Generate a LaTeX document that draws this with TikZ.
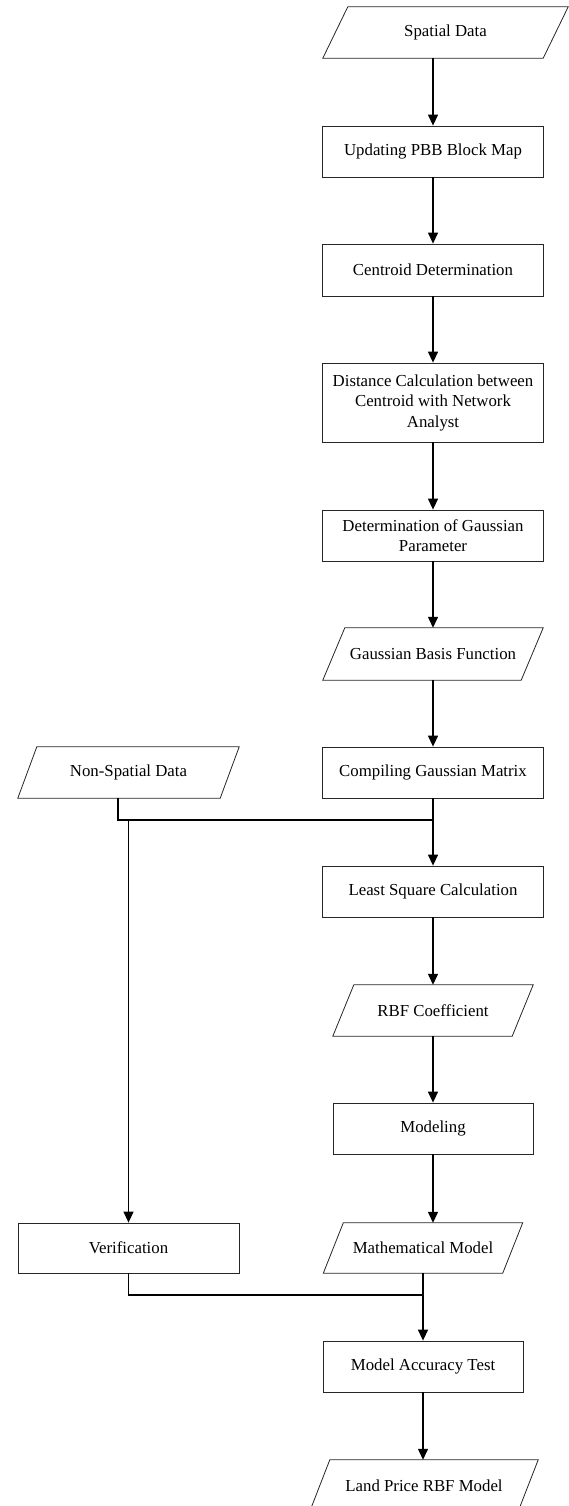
\documentclass[tikz,border=0pt]{standalone}
\usepackage{fontspec}
\setmainfont{Liberation Serif}
\usetikzlibrary{arrows.meta}
\begin{document}
\begin{tikzpicture}[x=1pt,y=-1pt,
  txt/.style={font=\fontsize{16.8}{20.5}\selectfont, align=center, inner sep=0pt},
  proc/.style={txt, draw=black!85, line width=0.8pt, minimum width=221pt, minimum height=51pt},
  io/.style={txt, minimum width=221pt, minimum height=51pt},
  pbox/.style={draw=black!85, line width=0.8pt},
  conn/.style={line width=1.3pt, -{Triangle[length=11pt,width=10pt]}},
  link/.style={line width=1.3pt}]
\useasboundingbox (0,0) rectangle (568,1506);

% nodes
\node[io, minimum width=245pt] (sp) at (445.5,32.5) {Spatial Data};
\node[proc] (upd) at (433,151.5) {Updating PBB Block Map};
\node[proc, minimum height=52pt] (cen) at (433,270) {Centroid Determination};
\node[proc, minimum height=79pt] (dist) at (433,402.5) {Distance Calculation between\\Centroid with Network\\Analyst};
\node[proc] (det) at (433,535.5) {Determination of Gaussian\\Parameter};
\node[io, minimum width=220pt, minimum height=52pt] (gbf) at (433,654) {Gaussian Basis Function};
\node[proc] (comp) at (433,772.5) {Compiling Gaussian Matrix};
\node[io] (ns) at (128.5,772.5) {Non-Spatial Data};
\node[proc] (lsq) at (433,891.5) {Least Square Calculation};
\node[io, minimum width=200pt] (rbf) at (433,1010.5) {RBF Coefficient};
\node[proc, minimum width=200pt] (mod) at (433,1128.5) {Modeling};
\node[proc, minimum height=50pt] (ver) at (128.5,1248) {Verification};
\node[io, minimum width=199pt, minimum height=50pt] (mm) at (423,1248) {Mathematical Model};
\node[proc, minimum width=200pt] (acc) at (423,1366.5) {Model Accuracy Test};
\node[io, minimum width=228pt] (land) at (424,1485.5) {Land Price RBF Model};

% parallelogram outlines
\draw[pbox] ([xshift=25pt]sp.north west) -- (sp.north east) -- ([xshift=-25pt]sp.south east) -- (sp.south west) -- cycle;
\draw[pbox] ([xshift=22pt]gbf.north west) -- (gbf.north east) -- ([xshift=-22pt]gbf.south east) -- (gbf.south west) -- cycle;
\draw[pbox] ([xshift=19pt]ns.north west) -- (ns.north east) -- ([xshift=-19pt]ns.south east) -- (ns.south west) -- cycle;
\draw[pbox] ([xshift=21pt]rbf.north west) -- (rbf.north east) -- ([xshift=-21pt]rbf.south east) -- (rbf.south west) -- cycle;
\draw[pbox] ([xshift=20pt]mm.north west) -- (mm.north east) -- ([xshift=-20pt]mm.south east) -- (mm.south west) -- cycle;
\draw[pbox] ([xshift=20pt]land.north west) -- (land.north east) -- ([xshift=-20pt]land.south east) -- (land.south west) -- cycle;

% junctions
\coordinate (j1) at (433,820);
\coordinate (j2) at (423,1295);

% connectors
\draw[conn] (upd.north |- sp.south) -- (upd.north);
\draw[conn] (upd) -- (cen);
\draw[conn] (cen) -- (dist);
\draw[conn] (dist) -- (det);
\draw[conn] (det) -- (gbf);
\draw[conn] (gbf) -- (comp);
\draw[link] ([xshift=-10.5pt]ns.south) |- (j1);
\draw[conn] (comp) -- (lsq);
\draw[conn] (ver.north |- j1) -- (ver.north);
\draw[conn] (lsq) -- (rbf);
\draw[conn] (rbf) -- (mod);
\draw[conn] (mod.south) -- (mod.south |- mm.north);
\draw[link] (ver.south) |- (j2);
\draw[conn] (mm) -- (acc);
\draw[conn] (acc.south) -- (acc.south |- land.north);
\end{tikzpicture}
\end{document}
